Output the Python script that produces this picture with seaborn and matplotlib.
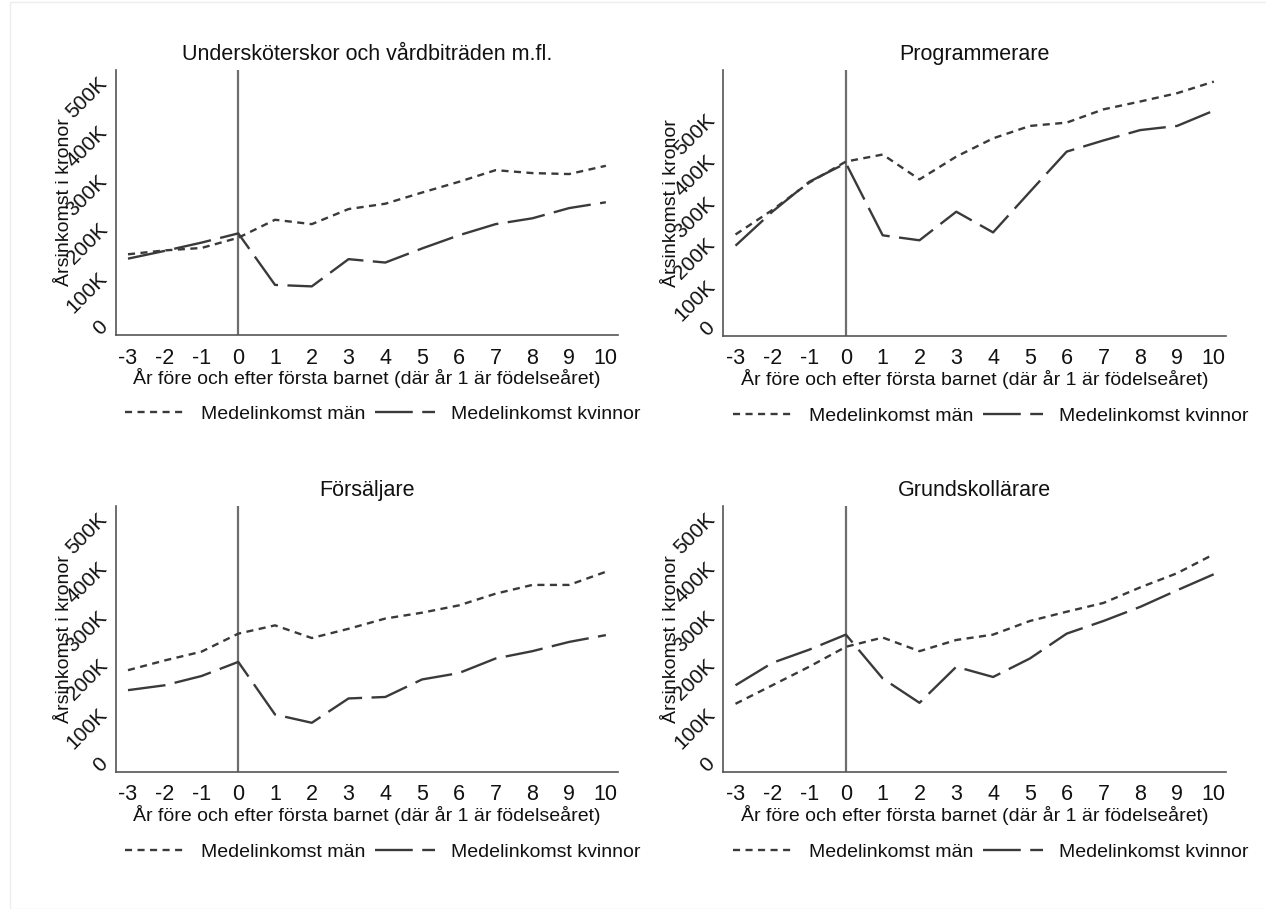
import pandas as pd
import numpy as np
import seaborn as sns
import matplotlib.pyplot as plt
from matplotlib.ticker import FixedLocator, FuncFormatter
from matplotlib.patches import Rectangle

# years relative to first child
years = [-3, -2, -1, 0, 1, 2, 3, 4, 5, 6, 7, 8, 9, 10]

# mean yearly income, thousands of kronor
titles = ["Undersköterskor och vårdbiträden m.fl.", "Programmerare", "Försäljare", "Grundskollärare"]

men_usk = [143, 151, 156, 177, 214, 205, 236, 247, 270, 292, 316, 310, 308, 325]
women_usk = [134, 150, 167, 186, 80, 77, 133, 126, 155, 182, 205, 217, 238, 250]

men_prog = [217, 276, 342, 393, 410, 350, 405, 449, 479, 487, 519, 538, 558, 586]
women_prog = [190, 272, 344, 389, 215, 203, 272, 222, 320, 417, 444, 469, 479, 516]

men_fors = [185, 205, 223, 260, 277, 251, 270, 291, 303, 318, 342, 360, 360, 387]
women_fors = [144, 154, 173, 202, 94, 77, 127, 130, 166, 179, 209, 224, 243, 257]

men_grund = [116, 154, 192, 233, 252, 224, 247, 258, 286, 305, 323, 355, 384, 423]
women_grund = [154, 200, 227, 258, 168, 118, 192, 171, 209, 260, 286, 315, 349, 382]

series = [(men_usk, women_usk), (men_prog, women_prog),
          (men_fors, women_fors), (men_grund, women_grund)]

lab_men = "Medelinkomst män"
lab_women = "Medelinkomst kvinnor"

sns.set_style("white")
plt.rcParams["font.family"] = ["Liberation Sans", "DejaVu Sans"]
plt.rcParams["axes.unicode_minus"] = False

fig = plt.figure(figsize=(12.66, 9.09), dpi=100)

W, H = 1266, 909
# axes boxes in pixels: left, top, right, bottom
boxes = [(115.5, 70, 618, 335), (723, 70, 1226, 336),
         (115.5, 506, 618, 772), (723, 506, 1226, 772)]
ylims = [(-23, 522), (-28, 614), (-24, 522), (-24, 522)]

line_col = "#3a3a3a"
ax_col = "#555555"

for i, (title, (men, women)) in enumerate(zip(titles, series)):
    l, t, r, b = boxes[i]
    ax = fig.add_axes([l / W, 1 - b / H, (r - l) / W, (b - t) / H])

    df = pd.DataFrame({
        "year": years * 2,
        "income": men + women,
        "grupp": [lab_men] * len(years) + [lab_women] * len(years),
    })

    ax.axvline(0, color="#6e6e6e", lw=1.6, zorder=1)
    sns.lineplot(data=df, x="year", y="income", style="grupp", ax=ax,
                 color=line_col, lw=1.7,
                 dashes={lab_men: (3.0, 2.3), lab_women: (16, 4)},
                 style_order=[lab_men, lab_women], zorder=3)

    ax.set_xlim(-3.34, 10.33)
    ax.set_ylim(*ylims[i])
    ax.xaxis.set_major_locator(FixedLocator(years))
    ax.set_xticklabels([str(y) for y in years])
    ax.yaxis.set_major_locator(FixedLocator([0, 100, 200, 300, 400, 500]))
    ax.yaxis.set_major_formatter(FuncFormatter(lambda v, p: "0" if v == 0 else f"{int(v)}K"))

    for s in ["top", "right"]:
        ax.spines[s].set_visible(False)
    for s in ["left", "bottom"]:
        ax.spines[s].set_color(ax_col)
        ax.spines[s].set_linewidth(1.2)

    ax.tick_params(axis="both", direction="out", length=6, width=1.1,
                   color=ax_col, labelcolor="#111111")
    ax.tick_params(axis="x", pad=3, labelsize=15.5)
    ax.tick_params(axis="y", pad=2, labelsize=15)
    for lab in ax.get_yticklabels():
        lab.set_rotation(45)
        lab.set_rotation_mode("anchor")
        lab.set_ha("right")
        lab.set_va("center")

    ax.set_title(title, fontsize=15.5, color="#111111", pad=7)
    ax.set_xlabel("År före och efter första barnet (där år 1 är födelseåret)",
                  fontsize=14, color="#111111")
    ax.set_ylabel("Årsinkomst i kronor", fontsize=14, color="#111111")
    ax.xaxis.label.set_va("center")
    ax.yaxis.label.set_va("center")
    ah = b - t
    aw = r - l
    ax.xaxis.set_label_coords(0.5, -43 / ah)
    ax.yaxis.set_label_coords(-51 / aw, 0.5)

    handles, labels = ax.get_legend_handles_labels()
    ax.legend(handles, labels, loc="center", bbox_to_anchor=(0.532, -0.30),
              ncol=2, frameon=False, fontsize=14, handlelength=3.1,
              handletextpad=0.8, columnspacing=0.5, labelcolor="#111111")

# faint outer border of the graph region
fig.patches.append(Rectangle((10 / W, 0), 1.2, 1 - 2 / H, transform=fig.transFigure,
                             fill=False, edgecolor="#eeeeee", lw=1))

fig.savefig("out.png", dpi=100, facecolor="white")
